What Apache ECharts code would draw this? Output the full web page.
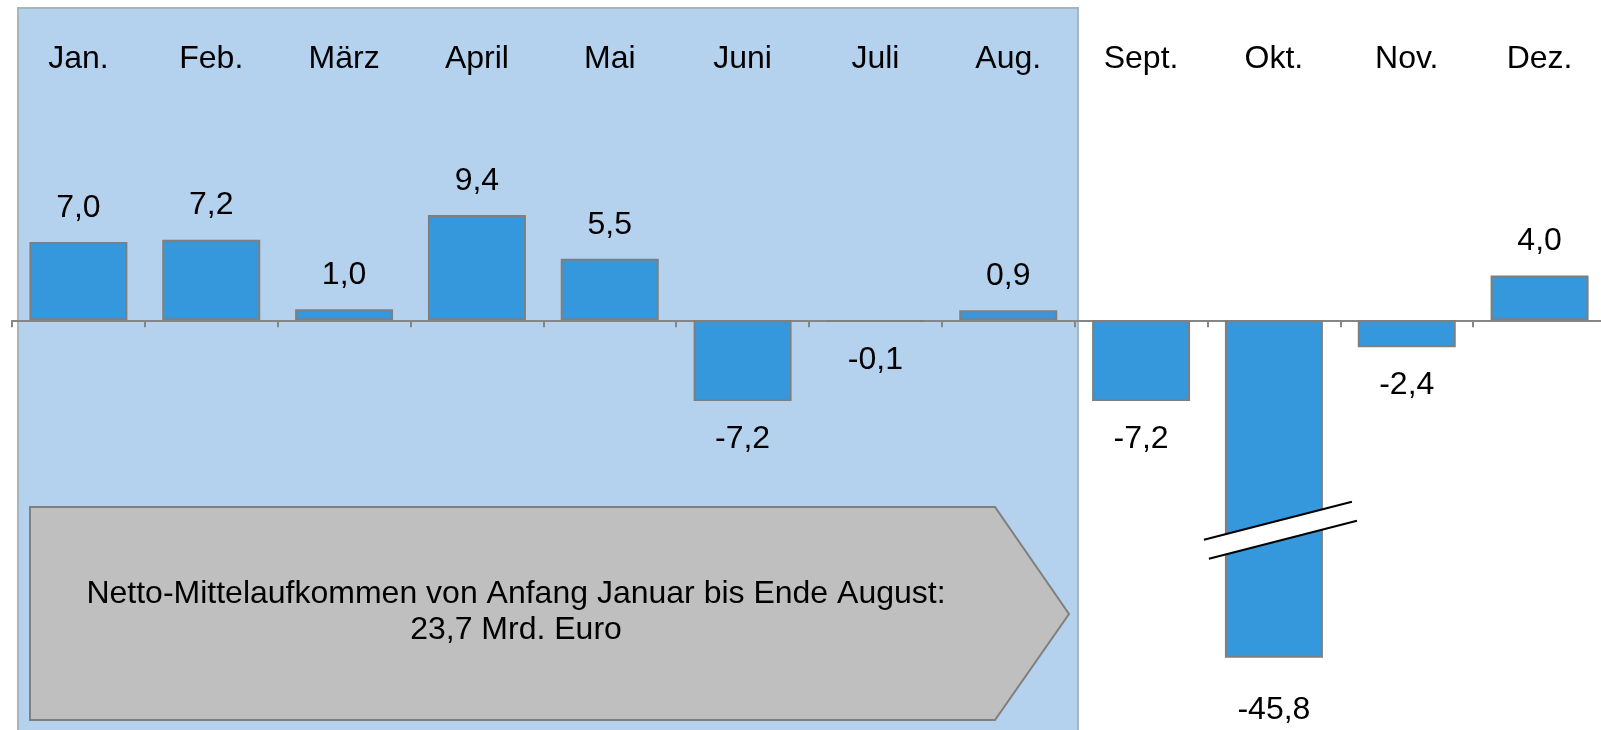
<!DOCTYPE html>
<html>
<head>
<meta charset="utf-8">
<script src="https://cdn.jsdelivr.net/npm/echarts@6/dist/echarts.min.js"></script>
<style>
  html, body { margin: 0; padding: 0; background: #fff; }
  #main { width: 1601px; height: 730px; }
</style>
</head>
<body>
<div id="main"></div>
<script>
// Monatliche Netto-Mittelaufkommen (Mrd. Euro)
var months = ['Jan.', 'Feb.', 'März', 'April', 'Mai', 'Juni', 'Juli', 'Aug.', 'Sept.', 'Okt.', 'Nov.', 'Dez.'];
var values = [7.0, 7.2, 1.0, 9.4, 5.5, -7.2, -0.1, 0.9, -7.2, -45.8, -2.4, 4.0];
var breakRange = [-34.7, -19];
var summaryText = 'Netto-Mittelaufkommen von Anfang Januar bis Ende August:\n23,7 Mrd. Euro';

var FONT = '"Liberation Sans", Arial, sans-serif';

function fmt(v) {
    return v.toFixed(1).replace('.', ',');
}

var barData = values.map(function (v) {
    var broken = v < breakRange[0];
    return {
        value: v,
        label: {
            position: v < 0 ? 'bottom' : 'top',
            distance: broken ? 36 : (v < 0 ? 22 : 18)
        }
    };
});

var myChart = echarts.init(document.getElementById('main'));
myChart.setOption({
    animation: false,
    grid: { left: 12, width: 1594, top: 141, height: 519, outerBoundsMode: 'none', containLabel: false },
    xAxis: [
        {
            type: 'category',
            data: months,
            position: 'bottom',
            axisLine: { onZero: true, lineStyle: { color: '#868686', width: 2 } },
            axisTick: { show: true, length: 7, interval: 0, lineStyle: { color: '#868686', width: 2 } },
            axisLabel: { show: false },
            splitLine: { show: false }
        },
        {
            type: 'category',
            data: months,
            position: 'top',
            axisLine: { show: false },
            axisTick: { show: false },
            axisLabel: { interval: 0, color: '#000', fontSize: 32, fontFamily: FONT, margin: 66 }
        }
    ],
    yAxis: {
        type: 'value',
        min: -46,
        max: 16,
        show: false,
        splitLine: { show: false },
        breaks: [{ start: breakRange[0], end: breakRange[1], gap: 0 }],
        breakArea: { show: false }
    },
    series: [
        {
            type: 'bar',
            data: barData,
            barWidth: 98,
            itemStyle: { color: '#3598dc', borderColor: '#7f7f7f', borderWidth: 2 },
            label: {
                show: true,
                color: '#000',
                fontSize: 32,
                fontFamily: FONT,
                formatter: function (p) { return fmt(p.value); }
            },
            z: 3
        }
    ]
});

// Hintergrund, Pfeil und Bruchzeichen
var okt = months.indexOf('Okt.');
var c = myChart.convertToPixel({ xAxisIndex: 0, yAxisIndex: 0 }, [okt, breakRange[1]]);
var bx = c[0] + 4, by = c[1] - 3;
var dx = 74, dy = 19, half = 9.5, shift = 5;

myChart.setOption({
    graphic: [
        {
            type: 'rect',
            z: -10,
            shape: { x: 18, y: 8, width: 1060, height: 740 },
            style: { fill: '#b4d1ee', stroke: '#a8b4c0', lineWidth: 2 }
        },
        {
            type: 'polygon',
            z: -5,
            shape: { points: [[30, 507], [995, 507], [1069, 614], [995, 720], [30, 720]] },
            style: { fill: '#bfbfbf', stroke: '#7f7f7f', lineWidth: 2 }
        },
        {
            type: 'text',
            z: -4,
            x: 516,
            y: 612,
            style: {
                text: summaryText,
                fill: '#000',
                font: '32px ' + FONT,
                align: 'center',
                verticalAlign: 'middle',
                lineHeight: 36
            }
        },
        {
            type: 'polygon',
            z: 10,
            shape: { points: [
                [bx - dx, by + dy - half], [bx + dx, by - dy - half],
                [bx + dx + shift, by - dy + half], [bx - dx + shift, by + dy + half]
            ] },
            style: { fill: '#fff' }
        },
        {
            type: 'line',
            z: 11,
            shape: { x1: bx - dx, y1: by + dy - half, x2: bx + dx, y2: by - dy - half },
            style: { stroke: '#000', lineWidth: 2 }
        },
        {
            type: 'line',
            z: 11,
            shape: { x1: bx - dx + shift, y1: by + dy + half, x2: bx + dx + shift, y2: by - dy + half },
            style: { stroke: '#000', lineWidth: 2 }
        }
    ]
});
</script>
</body>
</html>
